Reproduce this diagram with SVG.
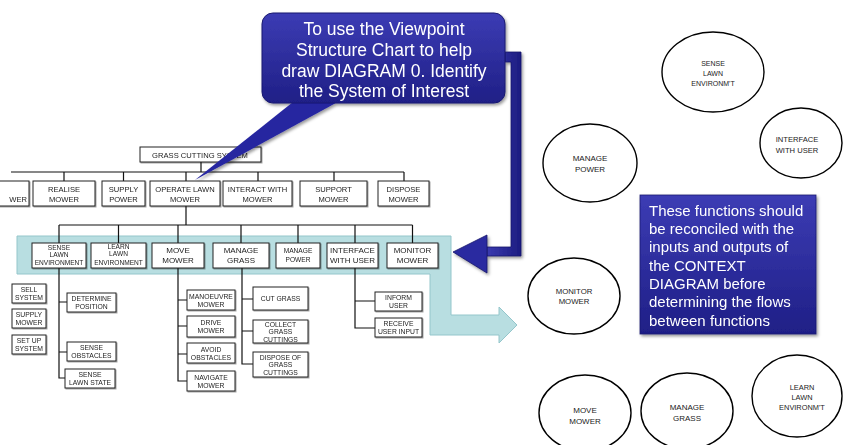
<svg xmlns="http://www.w3.org/2000/svg" width="844" height="445" viewBox="0 0 844 445">
<defs>
<linearGradient id="blueg" x1="0" y1="0" x2="0" y2="1">
<stop offset="0" stop-color="#3c3cb4"/>
<stop offset="1" stop-color="#1f1f86"/>
</linearGradient>
<linearGradient id="shaftg" x1="0" y1="0" x2="1" y2="0">
<stop offset="0" stop-color="#3a3ab0"/>
<stop offset="1" stop-color="#1c1c80"/>
</linearGradient>
<filter id="shd" x="-10%" y="-10%" width="130%" height="140%">
<feDropShadow dx="1" dy="1" stdDeviation="0.6" flood-color="#000" flood-opacity="0.35"/>
</filter>
<filter id="bshd" x="-10%" y="-10%" width="130%" height="140%">
<feDropShadow dx="1.5" dy="2" stdDeviation="1.5" flood-color="#000" flood-opacity="0.4"/>
</filter>
</defs>
<style>
.bx{fill:#fff;stroke:#222;stroke-width:1}
.ln{stroke:#111;stroke-width:1.2;fill:none}
.t{font-family:"Liberation Sans",Arial,sans-serif;text-anchor:middle;fill:#222}
.s2{font-size:7.6px}
.s3{font-size:8px}
.s6{font-size:6.6px}
.sc{font-size:6.8px}
.el{fill:#fff;stroke:#000;stroke-width:1.4}
.wt{font-family:"Liberation Sans",Arial,sans-serif;fill:#fff}
</style>

<!-- teal band with arrow -->
<path id="band" d="M17,236 H451 V315 H499 V307 L517,325 L499,343 V335 H430 V274 H17 Z" fill="#b8dee1" stroke="#94c6cb" stroke-width="1"/>

<g id="connectors">
<path class="ln" d="M201,162 V172 M11,172 H404 M64,172 V181 M123.5,172 V181 M186,172 V181 M258,172 V181 M334,172 V181 M404,172 V181"/>
<path class="ln" d="M186,206 V225 M59,225 H412.5 M59,225 V243 M118.5,225 V243 M178,225 V243 M241,225 V243 M298,225 V243 M355,225 V243 M412.5,225 V243"/>
<path class="ln" d="M59,268 V378 H65 M59,302 H67 M59,352 H67"/>
<path class="ln" d="M178,268 V381 H187 M178,300 H187 M178,326 H187 M178,354 H187"/>
<path class="ln" d="M242,268 V364 H253 M242,299 H253 M242,331 H253"/>
<path class="ln" d="M355,268 V328 H375 M355,301 H375"/>
</g>

<g filter="url(#shd)">
<g id="n-root"><rect class="bx" x="140" y="147" width="121" height="15"/><text class="t s2" x="200" y="157.5">GRASS CUTTING SYSTEM</text></g>

<g id="n-wer"><rect class="bx" x="-20" y="181" width="49" height="25"/><text class="t s2" x="27" y="202" text-anchor="end" style="text-anchor:end">WER</text></g>
<g id="n-realise"><rect class="bx" x="33" y="181" width="62" height="25"/><text class="t s2" x="64" y="192">REALISE</text><text class="t s2" x="64" y="202">MOWER</text></g>
<g id="n-supply"><rect class="bx" x="102" y="181" width="43" height="25"/><text class="t s2" x="123.5" y="192">SUPPLY</text><text class="t s2" x="123.5" y="202">POWER</text></g>
<g id="n-operate"><rect class="bx" x="150" y="181" width="70" height="25"/><text class="t s2" x="185" y="192">OPERATE LAWN</text><text class="t s2" x="185" y="202">MOWER</text></g>
<g id="n-interact"><rect class="bx" x="223" y="181" width="69" height="25"/><text class="t s2" x="257.5" y="192">INTERACT WITH</text><text class="t s2" x="257.5" y="202">MOWER</text></g>
<g id="n-support"><rect class="bx" x="300" y="181" width="67" height="25"/><text class="t s2" x="333.5" y="192">SUPPORT</text><text class="t s2" x="333.5" y="202">MOWER</text></g>
<g id="n-dispose"><rect class="bx" x="378" y="181" width="51" height="25"/><text class="t s2" x="403.5" y="192">DISPOSE</text><text class="t s2" x="403.5" y="202">MOWER</text></g>

<g id="n-sense"><rect class="bx" x="32" y="243" width="54" height="25"/><text class="t s6" x="59" y="250">SENSE</text><text class="t s6" x="59" y="257">LAWN</text><text class="t s6" x="59" y="265">ENVIRONMENT</text></g>
<g id="n-learn"><rect class="bx" x="91" y="243" width="55" height="25"/><text class="t s6" x="118.5" y="249">LEARN</text><text class="t s6" x="118.5" y="256">LAWN</text><text class="t s6" x="118.5" y="264.5">ENVIRONMENT</text></g>
<g id="n-move"><rect class="bx" x="152" y="243" width="52" height="25"/><text class="t s3" x="178" y="253">MOVE</text><text class="t s3" x="178" y="262.5">MOWER</text></g>
<g id="n-mgrass"><rect class="bx" x="213" y="243" width="56" height="25"/><text class="t s3" x="241" y="253">MANAGE</text><text class="t s3" x="241" y="262.5">GRASS</text></g>
<g id="n-mpower"><rect class="bx" x="276" y="243" width="44" height="25"/><text class="t s6" x="298" y="253">MANAGE</text><text class="t s6" x="298" y="261.5">POWER</text></g>
<g id="n-iface"><rect class="bx" x="327" y="243" width="51" height="25"/><text class="t s3" x="352.5" y="253">INTERFACE</text><text class="t s3" x="352.5" y="262.5">WITH USER</text></g>
<g id="n-monitor"><rect class="bx" x="387" y="243" width="51" height="25"/><text class="t s3" x="412.5" y="253">MONITOR</text><text class="t s3" x="412.5" y="262.5">MOWER</text></g>

<g id="n-sell"><rect class="bx" x="12" y="284" width="34" height="19"/><text class="t sc" x="29" y="292">SELL</text><text class="t sc" x="29" y="300">SYSTEM</text></g>
<g id="n-supplym"><rect class="bx" x="12" y="309" width="34" height="19"/><text class="t sc" x="29" y="317">SUPPLY</text><text class="t sc" x="29" y="325">MOWER</text></g>
<g id="n-setup"><rect class="bx" x="12" y="335" width="34" height="19"/><text class="t sc" x="29" y="343">SET UP</text><text class="t sc" x="29" y="351">SYSTEM</text></g>

<g id="n-determine"><rect class="bx" x="67" y="293" width="49" height="19"/><text class="t sc" x="91.5" y="301">DETERMINE</text><text class="t sc" x="91.5" y="309">POSITION</text></g>
<g id="n-sobst"><rect class="bx" x="67" y="342" width="49" height="19"/><text class="t sc" x="91.5" y="350">SENSE</text><text class="t sc" x="91.5" y="358">OBSTACLES</text></g>
<g id="n-sstate"><rect class="bx" x="65" y="369" width="50" height="19"/><text class="t sc" x="90" y="377">SENSE</text><text class="t sc" x="90" y="385">LAWN STATE</text></g>

<g id="n-manoeuvre"><rect class="bx" x="187" y="290" width="48" height="20"/><text class="t sc" x="211" y="298.5">MANOEUVRE</text><text class="t sc" x="211" y="306.5">MOWER</text></g>
<g id="n-drive"><rect class="bx" x="187" y="316" width="48" height="21"/><text class="t sc" x="211" y="324.5">DRIVE</text><text class="t sc" x="211" y="332.5">MOWER</text></g>
<g id="n-avoid"><rect class="bx" x="187" y="343" width="48" height="20"/><text class="t sc" x="211" y="351.5">AVOID</text><text class="t sc" x="211" y="359.5">OBSTACLES</text></g>
<g id="n-navigate"><rect class="bx" x="187" y="371" width="48" height="20"/><text class="t sc" x="211" y="379.5">NAVIGATE</text><text class="t sc" x="211" y="387.5">MOWER</text></g>

<g id="n-cut"><rect class="bx" x="253" y="287" width="55" height="23"/><text class="t sc" x="280.5" y="301">CUT GRASS</text></g>
<g id="n-collect"><rect class="bx" x="253" y="320" width="55" height="23"/><text class="t sc" x="280.5" y="326.5">COLLECT</text><text class="t sc" x="280.5" y="334">GRASS</text><text class="t sc" x="280.5" y="341.5">CUTTINGS</text></g>
<g id="n-disposeg"><rect class="bx" x="253" y="352" width="55" height="25"/><text class="t sc" x="280.5" y="359.5">DISPOSE OF</text><text class="t sc" x="280.5" y="367">GRASS</text><text class="t sc" x="280.5" y="374.5">CUTTINGS</text></g>

<g id="n-inform"><rect class="bx" x="375" y="292" width="47" height="19"/><text class="t sc" x="398.5" y="300">INFORM</text><text class="t sc" x="398.5" y="308">USER</text></g>
<g id="n-receive"><rect class="bx" x="375" y="318" width="47" height="19"/><text class="t sc" x="398.5" y="326">RECEIVE</text><text class="t sc" x="398.5" y="334">USER INPUT</text></g>
</g>

<!-- callout with tail -->
<g id="callout" filter="url(#bshd)">
<path d="M505,52 H521 V256 H487 V247 H511 V62 H505 Z" fill="url(#shaftg)" stroke="#15156a" stroke-width="0.8"/>
<polygon points="487,235 453,252 487,273" fill="#2a2aa0" stroke="#15156a" stroke-width="0.8"/>
<polygon points="298,98 345,98 195,180" fill="#2525a0"/>
<rect x="262" y="13" width="243" height="90" rx="11" fill="url(#blueg)" stroke="#1a1a70" stroke-width="1"/>
<text class="wt" font-size="17.5" text-anchor="middle" x="384" y="35">To use the Viewpoint</text>
<text class="wt" font-size="17.5" text-anchor="middle" x="384" y="56">Structure Chart to help</text>
<text class="wt" font-size="17.5" text-anchor="middle" x="384" y="77">draw DIAGRAM 0. Identify</text>
<text class="wt" font-size="17.5" text-anchor="middle" x="384" y="97">the System of Interest</text>
</g>

<g id="note" filter="url(#bshd)">
<rect x="640" y="195" width="176" height="139" fill="url(#blueg)" stroke="#1a1a70" stroke-width="0.8"/>
<text class="wt" font-size="15" x="649" y="216">These functions should</text>
<text class="wt" font-size="15" x="649" y="234">be reconciled with the</text>
<text class="wt" font-size="15" x="649" y="252">inputs and outputs of</text>
<text class="wt" font-size="15" x="649" y="271">the CONTEXT</text>
<text class="wt" font-size="15" x="649" y="289">DIAGRAM before</text>
<text class="wt" font-size="15" x="649" y="307">determining the flows</text>
<text class="wt" font-size="15" x="649" y="326">between functions</text>
</g>

<g id="e-sense"><ellipse class="el" cx="713" cy="72" rx="51" ry="40"/><text class="t" font-size="7" x="713" y="65.5">SENSE</text><text class="t" font-size="7" x="713" y="75.5">LAWN</text><text class="t" font-size="7" x="713" y="85.5">ENVIRONM'T</text></g>
<g id="e-iface"><ellipse class="el" cx="801" cy="143" rx="41" ry="35"/><text class="t" font-size="7.6" x="797" y="141.5">INTERFACE</text><text class="t" font-size="7.6" x="797" y="152.5">WITH USER</text></g>
<g id="e-mpower"><ellipse class="el" cx="590" cy="163" rx="47" ry="39"/><text class="t" font-size="8" x="590" y="161">MANAGE</text><text class="t" font-size="8" x="590" y="171.5">POWER</text></g>
<g id="e-monitor"><ellipse class="el" cx="574" cy="296" rx="46" ry="38"/><text class="t" font-size="7.8" x="574" y="294">MONITOR</text><text class="t" font-size="7.8" x="574" y="304">MOWER</text></g>
<g id="e-move"><ellipse class="el" cx="585" cy="413" rx="46" ry="38"/><text class="t" font-size="8" x="585" y="413">MOVE</text><text class="t" font-size="8" x="585" y="424">MOWER</text></g>
<g id="e-mgrass"><ellipse class="el" cx="687" cy="411" rx="46" ry="38"/><text class="t" font-size="8" x="687" y="410">MANAGE</text><text class="t" font-size="8" x="687" y="420.5">GRASS</text></g>
<g id="e-learn"><ellipse class="el" cx="797" cy="396" rx="45" ry="41"/><text class="t" font-size="7.4" x="802" y="389.5">LEARN</text><text class="t" font-size="7.4" x="802" y="399.5">LAWN</text><text class="t" font-size="7.4" x="802" y="410">ENVIRONM'T</text></g>
</svg>
